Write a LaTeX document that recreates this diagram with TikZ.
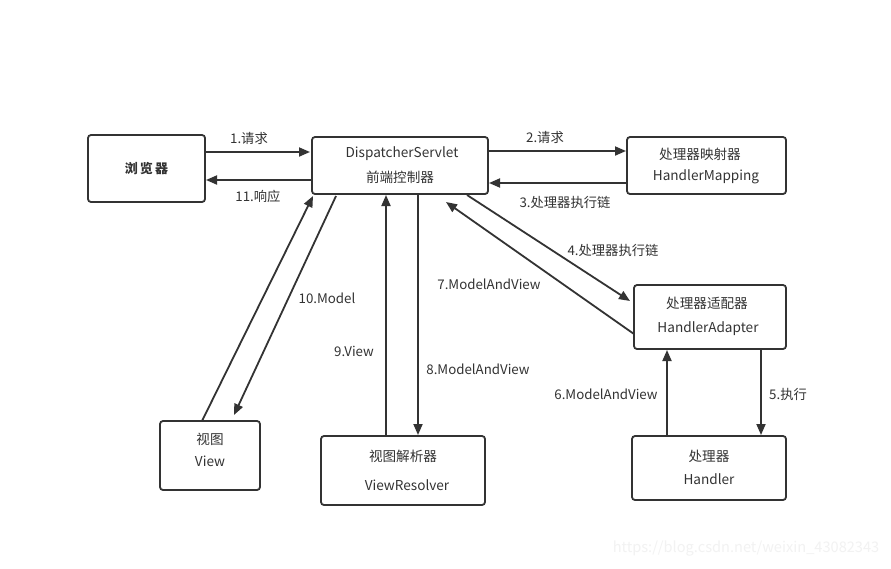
\documentclass[tikz,border=0pt]{standalone}
\usepackage{fontspec}
\setmainfont{Noto Sans CJK SC}
\usetikzlibrary{arrows.meta}
\definecolor{ink}{HTML}{333333}
\tikzset{
  box/.style={draw=ink, line width=1.8pt, rounded corners=3pt, fill=white},
  conn/.style={draw=ink, line width=1.8pt, -{Triangle[length=11pt,width=9pt]}},
  lbl/.style={text=ink, font=\fontsize{13.3}{15}\selectfont, inner sep=0pt},
  txt/.style={text=ink, font=\fontsize{13.6}{15}\selectfont, inner sep=0pt}
}
\begin{document}
\begin{tikzpicture}[x=1pt,y=-1pt]
\useasboundingbox[fill=white] (0,0) rectangle (891,568);
% boxes
\path[box] (88,135) rectangle (205,202);
\path[box] (312,137) rectangle (488,194);
\path[box] (627,137) rectangle (786,194);
\path[box] (634,285) rectangle (786,349);
\path[box] (632,436) rectangle (786,500);
\path[box] (160,421) rectangle (260,490);
\path[box] (321,436) rectangle (485,505);
% named anchors
\coordinate (br) at (146.5,168.5);
\coordinate (ds) at (400,165.5);
\coordinate (hm) at (706.5,165.5);
\coordinate (ha) at (710,317);
\coordinate (hd) at (709,468);
\coordinate (vw) at (210,455.5);
\coordinate (vr) at (403,470.5);
% texts
\node[txt, font=\bfseries\fontsize{13}{15}\selectfont] (t0) at (br) {浏\,览\,器};
\node[txt] (t1a) at (402,154) {DispatcherServlet};
\node[txt] (t1b) at (400,177) {前端控制器};
\node[txt] (t2a) at (700,154) {处理器映射器};
\node[txt] (t2b) at (706,177) {HandlerMapping};
\node[txt] (t3a) at (707,303) {处理器适配器};
\node[txt] (t3b) at (708,329) {HandlerAdapter};
\node[txt] (t4a) at (709,456) {处理器};
\node[txt] (t4b) at (709,479) {Handler};
\node[txt] (t5a) at (210,439) {视图};
\node[txt] (t5b) at (210,461) {View};
\node[txt] (t6a) at (403,456) {视图解析器};
\node[txt] (t6b) at (407,485) {ViewResolver};
% connectors
\coordinate (a1s) at (205,152); \coordinate (a1e) at (310,152);
\draw[conn] (a1s) -- (a1e);
\coordinate (a11s) at (312,180); \coordinate (a11e) at (206,180);
\draw[conn] (a11s) -- (a11e);
\coordinate (a2s) at (488,151); \coordinate (a2e) at (626,151);
\draw[conn] (a2s) -- (a2e);
\coordinate (a3s) at (627,183); \coordinate (a3e) at (489,183);
\draw[conn] (a3s) -- (a3e);
\coordinate (a4s) at (467,195); \coordinate (a4e) at (630,301);
\draw[conn] (a4s) -- (a4e);
\coordinate (a7s) at (634,334); \coordinate (a7e) at (446,202);
\draw[conn] (a7s) -- (a7e);
\coordinate (a5s) at (761,349); \coordinate (a5e) at (761,435);
\draw[conn] (a5s) -- (a5e);
\coordinate (a6s) at (667,436); \coordinate (a6e) at (667,350);
\draw[conn] (a6s) -- (a6e);
\coordinate (a8s) at (418,194); \coordinate (a8e) at (418,435);
\draw[conn] (a8s) -- (a8e);
\coordinate (a9s) at (386,436); \coordinate (a9e) at (386,195);
\draw[conn] (a9s) -- (a9e);
\coordinate (a10s) at (336,196); \coordinate (a10e) at (234,415);
\draw[conn] (a10s) -- (a10e);
\coordinate (avs) at (202,421); \coordinate (ave) at (313,196);
\draw[conn] (avs) -- (ave);
% labels
\node[lbl] (l1) at (249,138) {1.请求};
\node[lbl] (l11) at (258,196) {11.响应};
\node[lbl] (l2) at (545,137) {2.请求};
\node[lbl] (l3) at (565,202) {3.处理器执行链};
\node[lbl] (l4) at (613,250) {4.处理器执行链};
\node[lbl] (l7) at (489,284) {7.ModelAndView};
\node[lbl] (l5) at (788,394) {5.执行};
\node[lbl] (l6) at (606,394) {6.ModelAndView};
\node[lbl] (l8) at (478,369) {8.ModelAndView};
\node[lbl] (l9) at (354,351) {9.View};
\node[lbl] (l10) at (327,298) {10.Model};
\node[lbl, text=black!5, font=\fontsize{14.6}{17}\selectfont] (wm) at (746,549) {https://blog.csdn.net/weixin\_43082343};
\end{tikzpicture}
\end{document}
